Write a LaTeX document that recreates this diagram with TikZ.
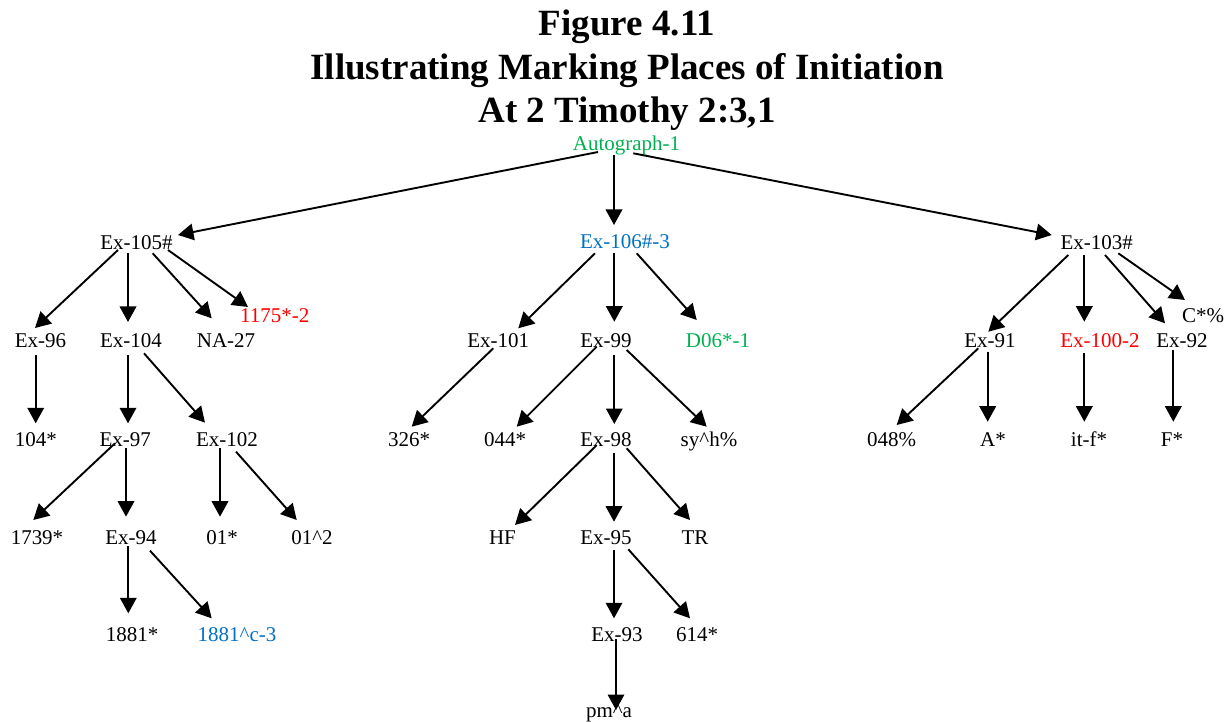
\documentclass[tikz,border=0pt]{standalone}
\usepackage{fontspec}
\setmainfont{Liberation Serif}
\usetikzlibrary{arrows.meta}
\definecolor{agreen}{HTML}{00B050}
\definecolor{ared}{HTML}{FF0000}
\definecolor{ablue}{HTML}{0070C0}
\tikzset{
  lbl/.style={anchor=base, inner sep=0pt, font=\fontsize{21}{25}\selectfont},
  ttl/.style={anchor=base, inner sep=0pt, font=\fontsize{37}{44}\selectfont\bfseries},
  arr/.style={line width=1.9pt, -{Triangle[length=15.5pt,width=16.5pt]}}
}
\begin{document}
\begin{tikzpicture}[x=1pt,y=-1pt]
\useasboundingbox (0,0) rectangle (1227,722);
% title
\node[ttl] (t1) at (627,36) {Figure 4.11};
\node[ttl] (t2) at (627,80) {Illustrating Marking Places of Initiation};
\node[ttl] (t3) at (627,123) {At 2 Timothy 2:3,1};
% nodes
\node[lbl,text=agreen] (auto) at (626.5,151) {Autograph-1};
\node[lbl] (e105) at (136.5,250) {Ex-105\#};
\node[lbl,text=ablue] (e106) at (625,249) {Ex-106\#-3};
\node[lbl] (e103) at (1096.7,250) {Ex-103\#};
\node[lbl] (e96) at (40.5,348) {Ex-96};
\node[lbl] (e104) at (131,348) {Ex-104};
\node[lbl] (na27) at (226,348) {NA-27};
\node[lbl,text=ared] (n1175) at (274.7,322.3) {1175*-2};
\node[lbl] (e101) at (498.3,348) {Ex-101};
\node[lbl] (e99) at (606,348) {Ex-99};
\node[lbl,text=agreen] (d06) at (718,348) {D06*-1};
\node[lbl] (e91) at (990,348) {Ex-91};
\node[lbl,text=ared] (e100) at (1100,348) {Ex-100-2};
\node[lbl] (e92) at (1182,348) {Ex-92};
\node[lbl] (cstar) at (1203,322.7) {C*\%};
\node[lbl] (n104) at (36,446.5) {104*};
\node[lbl] (e97) at (125.3,446.5) {Ex-97};
\node[lbl] (e102) at (227,446.5) {Ex-102};
\node[lbl] (n326) at (409,446.5) {326*};
\node[lbl] (n044) at (505,446.5) {044*};
\node[lbl] (e98) at (606,446.5) {Ex-98};
\node[lbl] (syh) at (709,446.5) {sy\^{}h\%};
\node[lbl] (n048) at (891.7,446.5) {048\%};
\node[lbl] (astar) at (993,446.5) {A*};
\node[lbl] (itf) at (1089,446.5) {it-f*};
\node[lbl] (fstar) at (1172,446.5) {F*};
\node[lbl] (n1739) at (37,544) {1739*};
\node[lbl] (e94) at (131,544) {Ex-94};
\node[lbl] (n01s) at (222,544) {01*};
\node[lbl] (n012) at (312,544) {01\^{}2};
\node[lbl] (hf) at (502.5,544) {HF};
\node[lbl] (e95) at (606,544) {Ex-95};
\node[lbl] (tr) at (695,544) {TR};
\node[lbl] (n1881) at (132,641) {1881*};
\node[lbl,text=ablue] (n1881c) at (237,641) {1881\^{}c-3};
\node[lbl] (e93) at (617,641) {Ex-93};
\node[lbl] (n614) at (697,641) {614*};
\node[lbl] (pma) at (609,717) {pm\^{}a};
% edges
\draw[arr] ([shift={(-28.5,1)}]auto.base) -- ([shift={(41.5,-15)}]e105.base);
\draw[arr] ([shift={(-12.5,4)}]auto.base) -- ([shift={(-11,-24)}]e106.base);
\draw[arr] ([shift={(6.8,2.3)}]auto.base) -- ([shift={(-45,-15)}]e103.base);
\draw[arr] ([shift={(-18.5,0)}]e105.base) -- ([shift={(-5.5,-20)}]e96.base);
\draw[arr] ([shift={(-8.5,3)}]e105.base) -- ([shift={(-3,-26)}]e104.base);
\draw[arr] ([shift={(16.2,3.3)}]e105.base) -- ([shift={(-14.3,-29.7)}]na27.base);
\draw[arr] ([shift={(31.5,0)}]e105.base) -- ([shift={(-26.7,-15.3)}]n1175.base);
\draw[arr] ([shift={(-4.8,7)}]e96.base) -- ([shift={(-0.3,-23.2)}]n104.base);
\draw[arr] ([shift={(-3,7)}]e104.base) -- ([shift={(2.7,-23.2)}]e97.base);
\draw[arr] ([shift={(13,5.3)}]e104.base) -- ([shift={(-22,-23.8)}]e102.base);
\draw[arr] ([shift={(-10.3,-3.2)}]e97.base) -- ([shift={(-3.7,-24)}]n1739.base);
\draw[arr] ([shift={(0.7,1.8)}]e97.base) -- ([shift={(-5,-27.3)}]e94.base);
\draw[arr] ([shift={(-7,1.8)}]e102.base) -- ([shift={(-2,-27.3)}]n01s.base);
\draw[arr] ([shift={(9,5.2)}]e102.base) -- ([shift={(-15.3,-24)}]n012.base);
\draw[arr] ([shift={(-2.7,2)}]e94.base) -- ([shift={(-3.7,-27.7)}]n1881.base);
\draw[arr] ([shift={(19,6.7)}]e94.base) -- ([shift={(-25.3,-22.7)}]n1881c.base);
\draw[arr] ([shift={(-30,4.3)}]e106.base) -- ([shift={(20,-19.7)}]e101.base);
\draw[arr] ([shift={(-10.7,4.3)}]e106.base) -- ([shift={(8.3,-26.3)}]e99.base);
\draw[arr] ([shift={(11.7,4.3)}]e106.base) -- ([shift={(-21.3,-28)}]d06.base);
\draw[arr] ([shift={(-5,0.3)}]e101.base) -- ([shift={(2.7,-19.8)}]n326.base);
\draw[arr] ([shift={(-9.3,-1.3)}]e99.base) -- ([shift={(11.7,-19.8)}]n044.base);
\draw[arr] ([shift={(8.3,7)}]e99.base) -- ([shift={(8.3,-22.5)}]e98.base);
\draw[arr] ([shift={(20.7,2)}]e99.base) -- ([shift={(-2.3,-19.8)}]syh.base);
\draw[arr] ([shift={(-9.3,-1.3)}]e98.base) -- ([shift={(12.5,-19)}]hf.base);
\draw[arr] ([shift={(8,6.8)}]e98.base) -- ([shift={(8,-22.3)}]e95.base);
\draw[arr] ([shift={(20.7,1.8)}]e98.base) -- ([shift={(-5,-24)}]tr.base);
\draw[arr] ([shift={(8,6)}]e95.base) -- ([shift={(-3,-22.7)}]e93.base);
\draw[arr] ([shift={(22.3,5.3)}]e95.base) -- ([shift={(-7,-22.7)}]n614.base);
\draw[arr] ([shift={(-1,-1.7)}]e93.base) -- ([shift={(7,-7)}]pma.base);
\draw[arr] ([shift={(-28.4,5)}]e103.base) -- ([shift={(-1.7,-16.3)}]e91.base);
\draw[arr] ([shift={(-12.4,5)}]e103.base) -- ([shift={(-15.7,-26.3)}]e100.base);
\draw[arr] ([shift={(8.3,5)}]e103.base) -- ([shift={(-17,-24.7)}]e92.base);
\draw[arr] ([shift={(21.6,3.3)}]e103.base) -- ([shift={(-18,-22.7)}]cstar.base);
\draw[arr] ([shift={(-11.7,0.3)}]e91.base) -- ([shift={(5,-21.5)}]n048.base);
\draw[arr] ([shift={(-2.3,3.7)}]e91.base) -- ([shift={(-5.3,-24.8)}]astar.base);
\draw[arr] ([shift={(-15.7,5.3)}]e100.base) -- ([shift={(-4.7,-24.8)}]itf.base);
\draw[arr] ([shift={(-8.7,2)}]e92.base) -- ([shift={(1.3,-24.8)}]fstar.base);
\end{tikzpicture}
\end{document}
